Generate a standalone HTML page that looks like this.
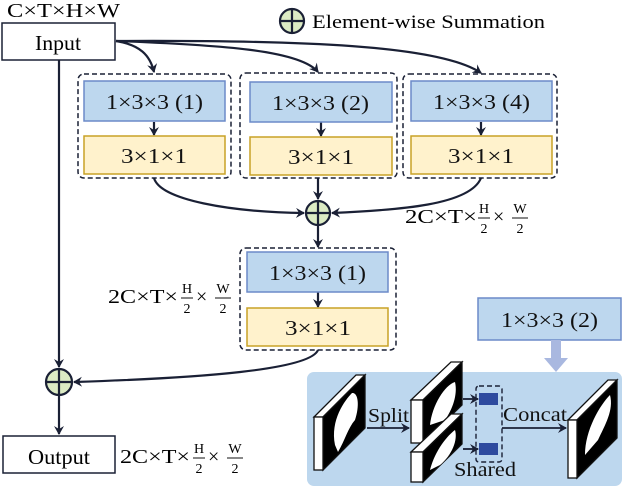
<!DOCTYPE html>
<html><head><meta charset="utf-8"><style>
html,body{margin:0;padding:0;background:#fff;}
svg, svg text{font-family:"Liberation Serif","DejaVu Serif",serif;}
</style></head><body>
<svg width="623" height="487" viewBox="0 0 623 487" xmlns="http://www.w3.org/2000/svg" font-family="Liberation Serif, serif">
<defs>
<marker id="ah" markerWidth="10" markerHeight="10" refX="8" refY="5" orient="auto" markerUnits="userSpaceOnUse">
<path d="M0,0 L9,5 L0,10 L3,5 Z" fill="#1a2035"/>
</marker>
</defs>
<g stroke="#1a2035" stroke-width="2.2" fill="none">
<path d="M116,41 C140,45 150,55 154,72" marker-end="url(#ah)"/>
<path d="M116,41 C220,45 300,50 318,72" marker-end="url(#ah)"/>
<path d="M116,41 C300,40 440,45 481,73" marker-end="url(#ah)"/>
<line x1="59" y1="60" x2="59" y2="367" marker-end="url(#ah)"/>
<line x1="59" y1="395" x2="59" y2="434" marker-end="url(#ah)"/>
<line x1="154" y1="122" x2="154" y2="135" marker-end="url(#ah)"/>
<line x1="321" y1="122" x2="321" y2="136" marker-end="url(#ah)"/>
<line x1="481" y1="122" x2="481" y2="135" marker-end="url(#ah)"/>
<line x1="318" y1="292" x2="318" y2="307" marker-end="url(#ah)"/>
<line x1="318" y1="178" x2="318" y2="199" marker-end="url(#ah)"/>
<path d="M154,178 C160,200 230,212 304,213" marker-end="url(#ah)"/>
<path d="M481,178 C470,205 400,210 332,213" marker-end="url(#ah)"/>
<line x1="318" y1="226" x2="318" y2="247" marker-end="url(#ah)"/>
<path d="M318,350 C310,370 200,378 74,382" marker-end="url(#ah)"/>
</g>
<rect x="2" y="23" width="113" height="37" fill="#fff" stroke="#1a2035" stroke-width="1.5"/>
<text x="35" y="50" font-size="21" textLength="46" lengthAdjust="spacingAndGlyphs">Input</text>
<text x="7" y="17" font-size="20" textLength="113" lengthAdjust="spacingAndGlyphs">C×T×H×W</text>
<rect x="3" y="436" width="112" height="37" fill="#fff" stroke="#1a2035" stroke-width="1.5"/>
<text x="28" y="464" font-size="21" textLength="62" lengthAdjust="spacingAndGlyphs">Output</text>
<g stroke="#1a2035" stroke-width="1.5" fill="none" stroke-dasharray="5,3">
<rect x="78" y="74" width="153" height="104" rx="6"/>
<rect x="240" y="73" width="157" height="105" rx="6"/>
<rect x="403" y="74" width="154" height="104" rx="6"/>
<rect x="240" y="248" width="156" height="102" rx="6"/>
</g>
<g stroke="#6c8ac8" stroke-width="1.5" fill="#bdd7ee">
<rect x="84" y="81" width="141" height="40"/>
<rect x="250" y="82" width="142" height="40"/>
<rect x="411" y="81" width="141" height="40"/>
<rect x="247" y="252" width="141" height="40"/>
<rect x="478" y="298" width="143" height="42"/>
</g>
<g stroke="#c9a227" stroke-width="1.5" fill="#fff2cc">
<rect x="84" y="136" width="141" height="38"/>
<rect x="250" y="137" width="142" height="38"/>
<rect x="411" y="136" width="141" height="38"/>
<rect x="247" y="308" width="141" height="38"/>
</g>
<g font-size="21" fill="#111">
<text x="106" y="109" textLength="97" lengthAdjust="spacingAndGlyphs">1×3×3 (1)</text>
<text x="272" y="110" textLength="97" lengthAdjust="spacingAndGlyphs">1×3×3 (2)</text>
<text x="433" y="109" textLength="97" lengthAdjust="spacingAndGlyphs">1×3×3 (4)</text>
<text x="269" y="280" textLength="97" lengthAdjust="spacingAndGlyphs">1×3×3 (1)</text>
<text x="501" y="327" textLength="97" lengthAdjust="spacingAndGlyphs">1×3×3 (2)</text>
<text x="121" y="163" textLength="66" lengthAdjust="spacingAndGlyphs">3×1×1</text>
<text x="288" y="164" textLength="66" lengthAdjust="spacingAndGlyphs">3×1×1</text>
<text x="448" y="163" textLength="66" lengthAdjust="spacingAndGlyphs">3×1×1</text>
<text x="285" y="335" textLength="66" lengthAdjust="spacingAndGlyphs">3×1×1</text>
</g>
<g stroke="#1a2035" stroke-width="2.2" fill="#dcebc4">
<circle cx="318" cy="213" r="12"/><path d="M306,213H330M318,201V225"/>
<circle cx="59" cy="382" r="13"/><path d="M46,382H72M59,369V395"/>
<circle cx="292" cy="21" r="12"/><path d="M280,21H304M292,9V33"/>
</g>
<text x="312" y="28" font-size="19" textLength="233" lengthAdjust="spacingAndGlyphs">Element-wise Summation</text>
<g font-size="20">
<text x="405" y="223" textLength="72" lengthAdjust="spacingAndGlyphs">2C×T×</text><text x="484" y="213" font-size="14" text-anchor="middle">H</text><line x1="478" y1="218" x2="490" y2="218" stroke="#111"/><text x="484" y="233" font-size="14" text-anchor="middle">2</text><text x="493" y="223">×</text><text x="520" y="213" font-size="14" text-anchor="middle">W</text><line x1="512" y1="218" x2="528" y2="218" stroke="#111"/><text x="520" y="233" font-size="14" text-anchor="middle">2</text>
<text x="108" y="303" textLength="70" lengthAdjust="spacingAndGlyphs">2C×T×</text><text x="187" y="293" font-size="14" text-anchor="middle">H</text><line x1="181" y1="298" x2="193" y2="298" stroke="#111"/><text x="187" y="313" font-size="14" text-anchor="middle">2</text><text x="196" y="303">×</text><text x="223" y="293" font-size="14" text-anchor="middle">W</text><line x1="215" y1="298" x2="231" y2="298" stroke="#111"/><text x="223" y="313" font-size="14" text-anchor="middle">2</text>
<text x="120" y="463" textLength="70" lengthAdjust="spacingAndGlyphs">2C×T×</text><text x="199" y="453" font-size="14" text-anchor="middle">H</text><line x1="193" y1="458" x2="205" y2="458" stroke="#111"/><text x="199" y="473" font-size="14" text-anchor="middle">2</text><text x="208" y="463">×</text><text x="235" y="453" font-size="14" text-anchor="middle">W</text><line x1="227" y1="458" x2="243" y2="458" stroke="#111"/><text x="235" y="473" font-size="14" text-anchor="middle">2</text>
</g>
<rect x="551" y="340" width="10" height="20" fill="#a9b8e0"/>
<polygon points="544,358 568,358 556,372" fill="#a9b8e0"/>
<rect x="307" y="372" width="315" height="114" rx="7" fill="#bdd7ee"/>
<g stroke="#111" stroke-width="1.3">
<polygon points="314,417 356,375 365,375 323,417" fill="#fff"/>
<polygon points="323,417 365,375 365,428 323,470" fill="#000"/>
<rect x="314" y="417" width="9" height="53" fill="#fff"/>
<path d="M335,445 C330,420 345,400 352,393 C358,392 360,405 355,420 C348,428 345,440 338,452 Z" fill="#fff" stroke="none"/>
<polygon points="411,400 451,362 462,362 423,400" fill="#fff"/>
<polygon points="423,400 462,362 462,405 423,443" fill="#000"/>
<rect x="411" y="400" width="12" height="43" fill="#fff"/>
<path d="M430,425 C432,405 445,385 455,382 C458,395 452,410 445,420 Z" fill="#fff" stroke="none"/>
<polygon points="411,452 451,414 462,414 423,452" fill="#fff"/>
<polygon points="423,452 462,414 462,444 423,482" fill="#000"/>
<rect x="411" y="452" width="12" height="30" fill="#fff"/>
<path d="M430,470 C435,450 448,435 455,430 C458,440 452,455 440,465 Z" fill="#fff" stroke="none"/>
<polygon points="568,420 608,380 617,380 577,420" fill="#fff"/>
<polygon points="577,420 617,380 617,438 577,478" fill="#000"/>
<rect x="568" y="420" width="9" height="58" fill="#fff"/>
<path d="M585,455 C585,430 600,405 610,395 C614,410 605,425 598,440 Z" fill="#fff" stroke="none"/>
</g>
<g stroke="#1a2035" stroke-width="1.8" fill="none">
<line x1="367" y1="428" x2="409" y2="428" marker-end="url(#ah)"/>
<line x1="463" y1="399" x2="478" y2="399" marker-end="url(#ah)"/>
<line x1="463" y1="449" x2="478" y2="449" marker-end="url(#ah)"/>
<line x1="502" y1="428" x2="566" y2="428" marker-end="url(#ah)"/>
<rect x="476" y="386" width="26" height="76" rx="3" stroke-dasharray="5,3" stroke-width="1.4"/>
</g>
<rect x="479" y="393" width="19" height="12" fill="#2e4a9e"/>
<rect x="479" y="443" width="19" height="12" fill="#2e4a9e"/>
<g font-size="20" fill="#111">
<text x="368" y="422" textLength="41" lengthAdjust="spacingAndGlyphs">Split</text>
<text x="503" y="421" textLength="64" lengthAdjust="spacingAndGlyphs">Concat</text>
<text x="454" y="476" textLength="62" lengthAdjust="spacingAndGlyphs">Shared</text>
</g>
</svg>
</body></html>
